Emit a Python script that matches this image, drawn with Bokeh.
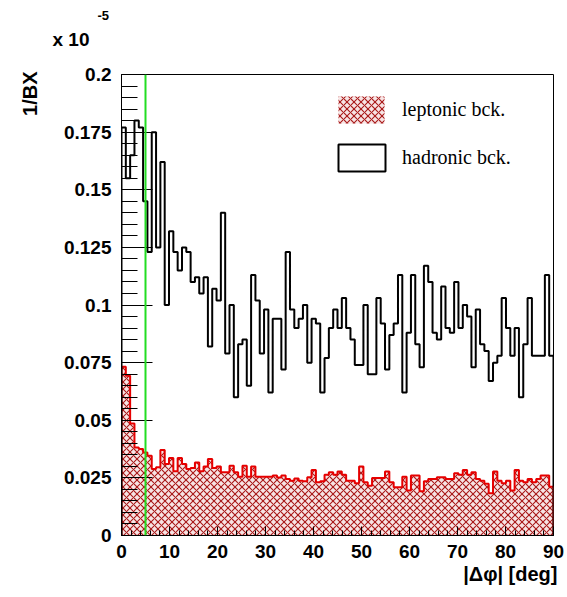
import numpy as np
from bokeh.plotting import figure
from bokeh.models import (Span, Legend, LegendItem, FixedTicker, Range1d, Title,
                          BoxAnnotation)
from bokeh.embed import file_html
from bokeh.resources import INLINE

# ---------------- data (units of 1e-5 per BX) ----------------
x_min, x_max = 0.0, 90.0
cut_deg = 5.0

hadronic = [
    0.177, 0.155, 0.165, 0.180, 0.177, 0.145, 0.123, 0.175, 0.125, 0.162,
    0.100, 0.132, 0.123, 0.115, 0.125, 0.123, 0.110, 0.112, 0.105, 0.112,
    0.082, 0.107, 0.102, 0.140, 0.079, 0.100, 0.060, 0.083, 0.085, 0.065,
    0.113, 0.102, 0.079, 0.098, 0.062, 0.094, 0.094, 0.072, 0.123, 0.098,
    0.090, 0.094, 0.100, 0.075, 0.094, 0.092, 0.062, 0.077, 0.090, 0.098,
    0.090, 0.103, 0.090, 0.085, 0.074, 0.074, 0.100, 0.070, 0.070, 0.103,
    0.092, 0.072, 0.087, 0.092, 0.113, 0.062, 0.088, 0.113, 0.083, 0.073,
    0.117, 0.110, 0.088, 0.085, 0.108, 0.090, 0.088, 0.110, 0.090, 0.100,
    0.095, 0.073, 0.098, 0.083, 0.080, 0.067, 0.075, 0.078, 0.103, 0.090,
    0.078, 0.090, 0.060, 0.083, 0.103, 0.078, 0.078, 0.078, 0.113, 0.078,
]

leptonic = [
    0.0732, 0.0693, 0.0486, 0.0382, 0.0375, 0.0360, 0.0346, 0.0289, 0.0296, 0.0371,
    0.0310, 0.0336, 0.0279, 0.0336, 0.0310, 0.0289, 0.0293, 0.0317, 0.0279, 0.0299,
    0.0332, 0.0293, 0.0299, 0.0274, 0.0274, 0.0303, 0.0274, 0.0255, 0.0303, 0.0255,
    0.0299, 0.0255, 0.0255, 0.0255, 0.0255, 0.0260, 0.0252, 0.0260, 0.0245, 0.0238,
    0.0247, 0.0238, 0.0235, 0.0253, 0.0284, 0.0231, 0.0235, 0.0264, 0.0274, 0.0264,
    0.0278, 0.0264, 0.0238, 0.0238, 0.0227, 0.0299, 0.0231, 0.0216, 0.0250, 0.0250,
    0.0250, 0.0278, 0.0231, 0.0209, 0.0209, 0.0255, 0.0195, 0.0260, 0.0260, 0.0192,
    0.0235, 0.0245, 0.0245, 0.0253, 0.0253, 0.0245, 0.0245, 0.0270, 0.0264, 0.0284,
    0.0264, 0.0274, 0.0245, 0.0238, 0.0224, 0.0183, 0.0278, 0.0238, 0.0227, 0.0238,
    0.0195, 0.0284, 0.0238, 0.0231, 0.0245, 0.0231, 0.0245, 0.0260, 0.0260, 0.0212,
]

x_ticks = [0, 10, 20, 30, 40, 50, 60, 70, 80, 90]
y_ticks = [0, 0.025, 0.05, 0.075, 0.1, 0.125, 0.15, 0.175, 0.2]
y_tick_labels = ["0", "0.025", "0.05", "0.075", "0.1", "0.125", "0.15", "0.175", "0.2"]

series_names = ["leptonic bck.", "hadronic bck."]
x_title = "|\u0394\u03c6| [deg]"
y_title = "1/BX"
exp_base, exp_power = "x 10", "-5"

# ---------------- helpers ----------------
edges = np.linspace(x_min, x_max, len(hadronic) + 1)


def outline(vals):
    xs, ys = [edges[0]], [0.0]
    for i, v in enumerate(vals):
        xs += [edges[i], edges[i + 1]]
        ys += [v, v]
    xs.append(edges[-1])
    ys.append(0.0)
    return xs, ys


# ---------------- figure ----------------
p = figure(width=567, height=597, output_backend="svg", toolbar_location=None,
           x_range=Range1d(x_min, x_max), y_range=Range1d(0, 0.2),
           min_border_left=121, min_border_right=14, min_border_top=74,
           min_border_bottom=62)
p.grid.visible = False
p.outline_line_color = "black"
p.outline_line_width = 1
p.background_fill_color = "white"
p.border_fill_color = "white"

SANS = "Liberation Sans"
SERIF = "Liberation Serif"

# axes
p.xaxis.ticker = FixedTicker(ticks=x_ticks, minor_ticks=list(np.arange(0, 91, 2)))
p.yaxis.ticker = FixedTicker(ticks=y_ticks,
                             minor_ticks=list(np.round(np.arange(0, 0.2001, 0.005), 4)))
p.yaxis.major_label_overrides = {t: s for t, s in zip(y_ticks, y_tick_labels)}
for ax in (p.xaxis, p.yaxis):
    ax.axis_line_color = "black"
    ax.major_tick_line_color = "black"
    ax.minor_tick_line_color = "black"
    ax.major_tick_out = 0
    ax.minor_tick_out = 0
    ax.major_label_text_font = SANS
    ax.major_label_text_font_style = "bold"
    ax.major_label_text_font_size = "19px"
    ax.major_label_text_color = "black"
p.yaxis.major_tick_in = 31
p.yaxis.minor_tick_in = 16
p.xaxis.major_tick_in = 9
p.xaxis.minor_tick_in = 5
p.yaxis.major_label_standoff = 10
p.xaxis.major_label_standoff = 9

# leptonic: hatched area + red outline
LEP_FILL = dict(fill_color="#f7e4e4", hatch_pattern="x", hatch_color="#a81818",
                hatch_scale=7, hatch_weight=1.1)
lep_y = list(leptonic) + [leptonic[-1]]
p.varea_step(x=edges, y1=np.zeros(len(edges)), y2=lep_y, step_mode="after", **LEP_FILL)
lx, ly = outline(leptonic)
p.line(lx, ly, line_color="#e60000", line_width=2)

# hadronic outline
hx, hy = outline(hadronic)
p.line(hx, hy, line_color="black", line_width=2)

# cut line
p.add_layout(Span(location=cut_deg, dimension="height", line_color="#22dd22", line_width=2))

# legend: text via Legend, swatches via screen-unit boxes
r_lep = p.quad(left=[], right=[], top=[], bottom=[], fill_alpha=0, line_alpha=0)
r_had = p.quad(left=[], right=[], top=[], bottom=[], fill_alpha=0, line_alpha=0)
LEG_X, LEG_Y, GW, GH, SP = 217, 364, 46, 27, 21
legend = Legend(items=[LegendItem(label=series_names[0], renderers=[r_lep]),
                       LegendItem(label=series_names[1], renderers=[r_had])],
                location=(LEG_X, LEG_Y), padding=0, margin=0, spacing=SP,
                glyph_width=GW, glyph_height=GH, label_height=GH,
                label_standoff=18, label_text_font=SERIF, label_text_color="black",
                label_text_font_size="20px", background_fill_alpha=0,
                border_line_alpha=0)
p.add_layout(legend, "center")
p.add_layout(BoxAnnotation(left=LEG_X, right=LEG_X + GW, bottom=LEG_Y + GH + SP,
                           top=LEG_Y + 2 * GH + SP, left_units="screen",
                           right_units="screen", top_units="screen",
                           bottom_units="screen", line_alpha=0, fill_alpha=1,
                           hatch_alpha=1, **LEP_FILL))
p.add_layout(BoxAnnotation(left=LEG_X, right=LEG_X + GW + 1, bottom=LEG_Y,
                           top=LEG_Y + GH, left_units="screen", right_units="screen",
                           top_units="screen", bottom_units="screen",
                           fill_color="white", fill_alpha=1, line_color="black",
                           line_alpha=1, line_width=2))

# titles outside the frame
p.add_layout(Title(text=exp_base, align="left", offset=-69, standoff=50,
                   text_color="black", text_font=SANS, text_font_style="bold",
                   text_font_size="19px"), "above")
p.add_layout(Title(text=exp_power, align="left", offset=-24, standoff=-36,
                   text_color="black", text_font=SANS, text_font_style="bold",
                   text_font_size="13px"), "above")
p.add_layout(Title(text=y_title, align="right", offset=-3, standoff=35,
                   vertical_align="top",
                   text_color="black", text_font=SANS, text_font_style="bold",
                   text_font_size="20px"), "left")
p.add_layout(Title(text=x_title, align="right", offset=-4, standoff=0,
                   text_color="black", text_font=SANS, text_font_style="bold",
                   text_font_size="20px"), "below")

open("out.html", "w").write(file_html(p, INLINE))
